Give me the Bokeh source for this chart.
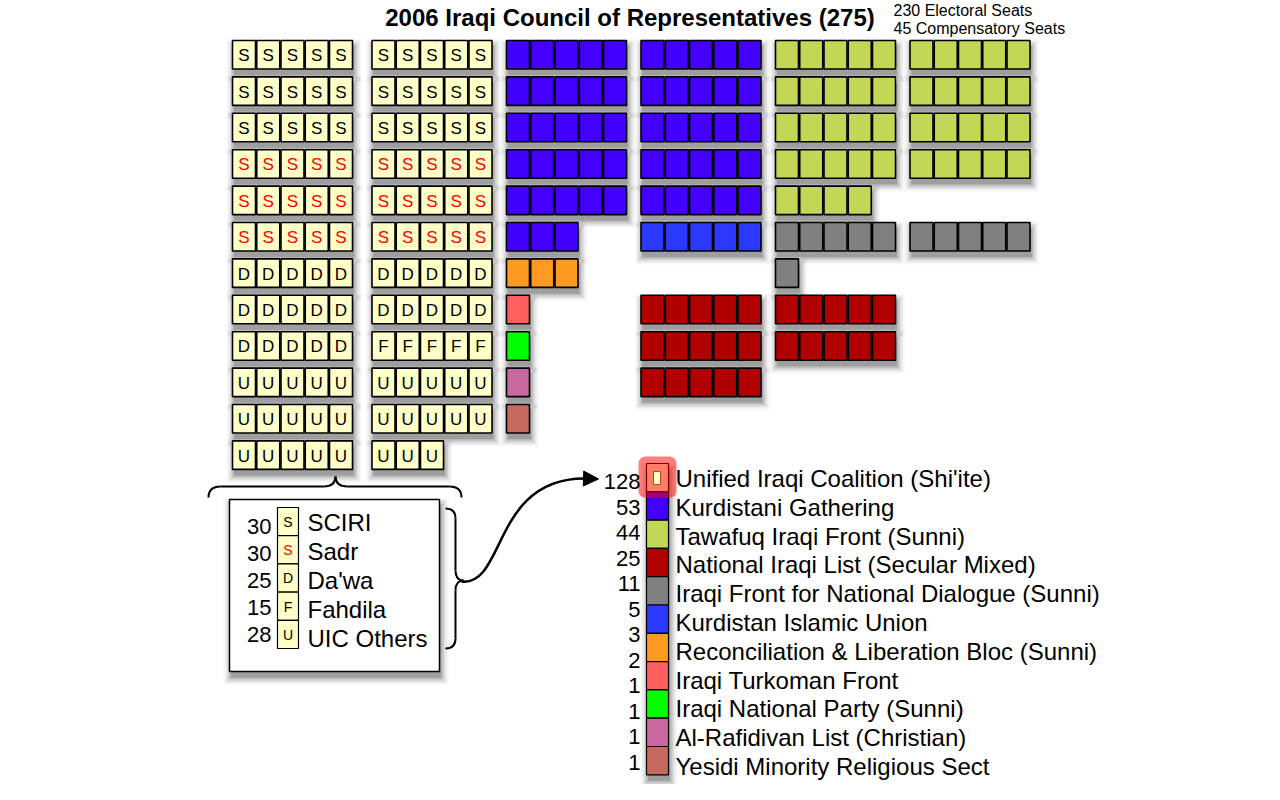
import numpy as np
from bokeh.plotting import figure
from bokeh.models import Range1d, Arrow, NormalHead
from bokeh.core.properties import value
from bokeh.embed import file_html
from bokeh.resources import INLINE

# ---------------- data ----------------
title_text = "2006 Iraqi Council of Representatives (275)"
seat_notes = ["230 Electoral Seats", "45 Compensatory Seats"]

party_names = [
    "Unified Iraqi Coalition (Shi'ite)",
    "Kurdistani Gathering",
    "Tawafuq Iraqi Front (Sunni)",
    "National Iraqi List (Secular Mixed)",
    "Iraqi Front for National Dialogue (Sunni)",
    "Kurdistan Islamic Union",
    "Reconciliation & Liberation Bloc (Sunni)",
    "Iraqi Turkoman Front",
    "Iraqi National Party (Sunni)",
    "Al-Rafidivan List (Christian)",
    "Yesidi Minority Religious Sect",
]
legend_numbers = [128, 53, 44, 25, 11, 5, 3, 2, 1, 1, 1, 1]
party_colors = ["#FFFFC8", "#4400FF", "#C3D655", "#B00000", "#808080", "#2B38FF",
                "#FF9A20", "#FF5F5F", "#00FF00", "#C8689F", "#C7695E"]
# seats drawn in the seat grid for parties 1..10 (UIC drawn from its factions)
party_seats_drawn = [None, 53, 44, 25, 11, 5, 3, 1, 1, 1, 1]

faction_names = ["SCIRI", "Sadr", "Da'wa", "Fahdila", "UIC Others"]
faction_counts = [30, 30, 25, 15, 28]
faction_letters = ["S", "S", "D", "F", "U"]
faction_seats_drawn = [30, 30, 25, 5, 28]
faction_letter_colors = ["black", "red", "black", "black", "black"]

# ---------------- layout ----------------
FONT = value("Liberation Sans")
CELL_W, CELL_H = 23.0, 28.5
PITCH_X, PITCH_Y = 24.25, 36.4
ROW_Y0 = 40.0


def block_x0(b):
    return 232.0 if b == 0 else 237.0 + 134.5 * b


def place(count, b0, start):
    out = []
    for k in range(count):
        row, col = divmod(start + k, 10)
        b = b0 if col < 5 else b0 + 1
        left = block_x0(b) + (col % 5) * PITCH_X
        top = ROW_Y0 + row * PITCH_Y
        out.append((b, row, left, top))
    return out


# placement: party index -> (first block, start slot in a 10-wide grid)
placement = {1: (2, 0), 5: (2, 55), 6: (2, 60), 7: (2, 70), 8: (2, 80),
             9: (2, 90), 10: (2, 100), 2: (4, 0), 4: (4, 50), 3: (3, 70)}

cells = dict(left=[], right=[], top=[], bottom=[], color=[])
letters = dict(x=[], y=[], text=[], color=[])
groups = {}


def add_cells(pos, color, letter=None, lcolor=None):
    for b, row, left, top in pos:
        cells["left"].append(left)
        cells["right"].append(left + CELL_W)
        cells["top"].append(top)
        cells["bottom"].append(top + CELL_H)
        cells["color"].append(color)
        g = groups.setdefault((b, row), [left, left + CELL_W, top])
        g[0] = min(g[0], left)
        g[1] = max(g[1], left + CELL_W)
        if letter:
            letters["x"].append(left + CELL_W / 2)
            letters["y"].append(top + CELL_H / 2 + 1)
            letters["text"].append(letter)
            letters["color"].append(lcolor)


start = 0
for i, n in enumerate(faction_seats_drawn):
    add_cells(place(n, 0, start), party_colors[0], faction_letters[i], faction_letter_colors[i])
    start += n

for pi, (b0, st) in placement.items():
    add_cells(place(party_seats_drawn[pi], b0, st), party_colors[pi])

# ---------------- figure ----------------
p = figure(width=1264, height=784, x_range=Range1d(0, 1264), y_range=Range1d(784, 0),
           output_backend="svg", toolbar_location=None, min_border=0)
p.axis.visible = False
p.grid.visible = False
p.outline_line_color = None
p.background_fill_color = "white"


def shadow(lefts, rights, tops, bottoms):
    lefts, rights = np.array(lefts), np.array(rights)
    tops, bottoms = np.array(tops), np.array(bottoms)
    for grow, alpha in [(0, 0.14), (1.5, 0.10), (3, 0.08), (4.5, 0.06), (6, 0.04), (7.5, 0.025)]:
        p.quad(left=lefts - grow + 1.5, right=rights + grow + 1.5,
               top=tops - grow + 6, bottom=bottoms + grow + 6,
               fill_color="black", fill_alpha=alpha, line_color=None)


# seat group shadows
gl = [g[0] for g in groups.values()]
gr = [g[1] for g in groups.values()]
gt = [g[2] for g in groups.values()]
shadow(gl, gr, gt, [t + CELL_H for t in gt])

p.quad(left="left", right="right", top="top", bottom="bottom", fill_color="color",
       line_color="black", line_width=1.6, source=cells)
p.text(x="x", y="y", text="text", text_color="color", text_font=FONT,
       text_font_size=value("17px"), text_align="center", text_baseline="middle",
       source=letters)

# title
p.text(x=[629.5], y=[17], text=[title_text], text_font=FONT, text_font_style="bold",
       text_font_size=value("24px"), text_align="center", text_baseline="middle")
p.text(x=[893, 893], y=[10, 28], text=seat_notes, text_font=FONT,
       text_font_size=value("16px"), text_align="left", text_baseline="middle")

# ---------------- UIC factions box ----------------
BOX = (229, 439, 499, 671)
shadow([BOX[0]], [BOX[1]], [BOX[2]], [BOX[3]])
p.quad(left=[BOX[0]], right=[BOX[1]], top=[BOX[2]], bottom=[BOX[3]],
       fill_color="white", line_color="black", line_width=1.5)
nf = len(faction_names)
sw_top = [507 + 28.2 * i for i in range(nf)]
p.quad(left=[277] * nf, right=[298] * nf, top=sw_top, bottom=[t + 28.2 for t in sw_top],
       fill_color=party_colors[0], line_color="black", line_width=1.2)
p.text(x=[287.5] * nf, y=[t + 14.5 for t in sw_top], text=faction_letters,
       text_color=faction_letter_colors, text_font=FONT, text_font_size=value("14px"),
       text_align="center", text_baseline="middle")
p.text(x=[271] * nf, y=[526 + 27 * i for i in range(nf)], text=[str(c) for c in faction_counts],
       text_font=FONT, text_font_size=value("22px"), text_align="right", text_baseline="middle")
p.text(x=[307] * nf, y=[522 + 29 * i for i in range(nf)], text=faction_names,
       text_font=FONT, text_font_size=value("24px"), text_align="left", text_baseline="middle")

# ---------------- braces and arrow ----------------
bx0, by0, bx1, by1, bcx, bcy = [], [], [], [], [], []
sx0, sy0, sx1, sy1 = [], [], [], []


def hbrace(L, R, xm, yb, yl, yt, r=12):
    for (a, b, c) in [((L, yb), (L + r, yl), (L, yl)), ((xm - r, yl), (xm, yt), (xm, yl)),
                      ((xm, yt), (xm + r, yl), (xm, yl)), ((R - r, yl), (R, yb), (R, yl))]:
        bx0.append(a[0]); by0.append(a[1]); bx1.append(b[0]); by1.append(b[1])
        bcx.append(c[0]); bcy.append(c[1])
    for a, b in [((L + r, yl), (xm - r, yl)), ((xm + r, yl), (R - r, yl))]:
        sx0.append(a[0]); sy0.append(a[1]); sx1.append(b[0]); sy1.append(b[1])


def vbrace(T, B, ym, xe, xl, xt, r=10):
    for (a, b, c) in [((xe, T), (xl, T + r), (xl, T)), ((xl, ym - r), (xt, ym), (xl, ym)),
                      ((xt, ym), (xl, ym + r), (xl, ym)), ((xl, B - r), (xe, B), (xl, B))]:
        bx0.append(a[0]); by0.append(a[1]); bx1.append(b[0]); by1.append(b[1])
        bcx.append(c[0]); bcy.append(c[1])
    for a, b in [((xl, T + r), (xl, ym - r)), ((xl, ym + r), (xl, B - r))]:
        sx0.append(a[0]); sy0.append(a[1]); sx1.append(b[0]); sy1.append(b[1])


hbrace(208, 461, 335, 497, 486, 476)
vbrace(508, 648, 580, 445, 455, 463)
p.quadratic(x0=bx0, y0=by0, x1=bx1, y1=by1, cx=bcx, cy=bcy, line_color="black", line_width=2)
p.segment(x0=sx0, y0=sy0, x1=sx1, y1=sy1, line_color="black", line_width=2)

p.bezier(x0=[461], y0=[581], x1=[584], y1=[478], cx0=[505], cy0=[586], cx1=[492], cy1=[478],
         line_color="black", line_width=2.5)
p.add_layout(Arrow(end=NormalHead(size=15, fill_color="black", line_color="black"),
                   x_start=582, y_start=478, x_end=598, y_end=478.5,
                   line_color="black", line_width=2.5))

# ---------------- main legend ----------------
npn = len(party_names)
LX0, LW, LY0, LH = 646, 22, 463, 28.3
lt = [LY0 + LH * i for i in range(npn)]
shadow([LX0], [LX0 + LW], [LY0], [LY0 + LH * npn])
p.quad(left=[LX0] * npn, right=[LX0 + LW] * npn, top=lt, bottom=[t + LH for t in lt],
       fill_color=party_colors, line_color="black", line_width=1.2)


def rounded_rect(l, r, t, b, rad, n=8):
    xs, ys = [], []
    for cx, cy, a0 in [(r - rad, t + rad, -90), (r - rad, b - rad, 0),
                       (l + rad, b - rad, 90), (l + rad, t + rad, 180)]:
        for a in np.linspace(a0, a0 + 90, n):
            xs.append(cx + rad * np.cos(np.radians(a)))
            ys.append(cy + rad * np.sin(np.radians(a)))
    return xs, ys


hx, hy = rounded_rect(LX0 - 8, LX0 + LW + 8, LY0 - 7, LY0 + LH + 6, 7)
p.patch(hx, hy, fill_color="red", fill_alpha=0.5, line_color=None)
p.quad(left=[LX0 + 7], right=[LX0 + 14], top=[LY0 + 8], bottom=[LY0 + 21],
       fill_color=party_colors[0], line_color="#c04020", line_width=1)

p.text(x=[640] * len(legend_numbers), y=[481 + 25.5 * i for i in range(len(legend_numbers))],
       text=[str(v) for v in legend_numbers], text_font=FONT, text_font_size=value("22px"),
       text_align="right", text_baseline="middle")
p.text(x=[675] * npn, y=[478 + 28.8 * i for i in range(npn)], text=party_names,
       text_font=FONT, text_font_size=value("24px"), text_align="left", text_baseline="middle")

open("out.html", "w").write(file_html(p, INLINE))
